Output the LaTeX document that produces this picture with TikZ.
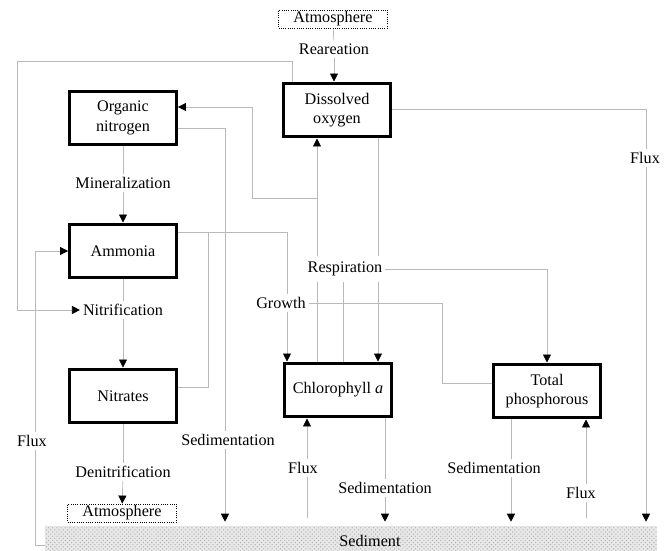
\documentclass[tikz,border=0pt]{standalone}
\usepackage{fontspec}
\setmainfont{Liberation Serif}
\usetikzlibrary{calc, positioning, arrows.meta, backgrounds, patterns}
\tikzset{
  wqfig/.style={font=\fontsize{11.5}{14}\selectfont},
  pool/.style={draw, line width=2.4pt, fill=white, align=center,
    minimum width=2.66cm, minimum height=1.34cm, inner sep=1pt},
  atm/.style={draw, densely dotted, line width=0.6pt,
    minimum width=2.72cm, minimum height=0.45cm, inner sep=0pt},
  sedbed/.style={minimum width=15.3cm, minimum height=0.625cm, inner sep=0pt,
    preaction={fill=gray!18}, pattern=crosshatch dots, pattern color=gray!60},
  proc/.style={fill=white, inner sep=2pt},
  flow/.style={draw=gray!55, line width=0.5pt},
  arr/.style={flow, -{Triangle[length=2mm, width=2mm, color=black, fill=black]}},
  tobed/.style={shorten >=1mm},
  frombed/.style={shorten <=2mm},
}

\begin{document}
\begin{tikzpicture}[wqfig, x=0.025cm, y=-0.025cm]
  \useasboundingbox (0,0) rectangle (671,551);

  % ----- state variables -----
  \node[pool] (on)  at (123,118) {Organic\\nitrogen};
  \node[pool] (amm) at (123,251) {Ammonia};
  \node[pool] (no3) at (123,396) {Nitrates};
  \node[pool] (do)  at (337,110) {Dissolved\\oxygen};
  \node[pool] (chl) at (338,390) {Chlorophyll \textit{a}};
  \node[pool] (tp)  at (547,391) {Total\\phosphorous};

  % ----- atmosphere and sediment -----
  \node[atm] (atmT) at (333,19) {Atmosphere};
  \node[atm] (atmB) at (122,513) {Atmosphere};
  \node[sedbed] (bed) at (351,538.5) {};
  \node (bedtxt) at (370,541) {Sediment};

  % ----- process labels -----
  \node[proc] (rea)   at (334,49)  {Reareation};
  \node[proc] (mine)  at (123,183) {Mineralization};
  \node[proc] (nitri) at (123,310) {Nitrification};
  \node[proc] (denit) at (123,472) {Denitrification};
  \node[proc] (grow)  at (281,303) {Growth};
  \node[proc, inner ysep=4pt] (resp) at (345,269) {Respiration};
  \node[proc] (fluxN) at (32,441)  {Flux};
  \node[proc] (fluxO) at (645,158) {Flux};
  \node[proc] (fluxC) at (303,468) {Flux};
  \node[proc] (fluxP) at (581,493) {Flux};
  \node[proc] (sedN)  at (228,440) {Sedimentation};
  \node[proc] (sedC)  at (385,488) {Sedimentation};
  \node[proc] (sedP)  at (494,468) {Sedimentation};

  % ----- bends of the connectors -----
  \coordinate (loopA) at (292,61);
  \coordinate (loopB) at (17,61);
  \coordinate (fN)    at (35,545);
  \coordinate (onS)   at (225,128);
  \coordinate (c1)    at (317,198);
  \coordinate (c2)    at (252,107);
  \coordinate (c3)    at (378,0);
  \coordinate (c4)    at (343,0);
  \coordinate (g1)    at (287,232);
  \coordinate (g2)    at (208,387);
  \coordinate (g3)    at (442,383);
  \coordinate (f1)    at (646,109);
  \coordinate (f3)    at (307,0);
  \coordinate (f4)    at (586,0);
  \coordinate (s3)    at (511,0);

  \begin{scope}[on background layer]
    % nitrogen chain
    \draw[flow] (on) -- (mine);
    \draw[arr] (mine) -- (amm);
    \draw[flow] (amm) -- (nitri);
    \draw[arr] (nitri) -- (no3);
    \draw[flow] (no3) -- (denit);
    \draw[arr] (denit) -- (atmB);

    % reaeration
    \draw[flow] (atmT) -- (rea);
    \draw[arr] (rea) -- (rea |- do.north);

    % oxygen to nitrification
    \draw[arr] (do.north -| loopA) -- (loopA) -- (loopB) |- (nitri);

    % ammonia flux from sediment
    \draw[flow] (bed.west |- fN) -- (fN) -- (fN |- fluxN.south);
    \draw[arr] (fN |- fluxN.north) |- (amm.west);

    % organic nitrogen settling
    \draw[flow] (on.east |- onS) -- (onS) -- (onS |- sedN.north);
    \draw[arr, tobed] (sedN.south -| onS) -- (onS |- bed.north);

    % algae and oxygen
    \draw[arr] (chl.north -| c1) -- (do.south -| c1);
    \draw[arr] (c1) -| (c2) -- (on.east |- c2);
    \draw[arr] (do.south -| c3) -- (chl.north -| c3);
    \draw[flow] (resp.south -| c4) -- (chl.north -| c4);
    \draw[arr] (resp) -| (tp);

    % growth
    \draw[flow] (amm.east |- g1) -- (g1) -- (g1 |- grow.north);
    \draw[arr] (grow.south -| g1) -- (chl.north -| g1);
    \draw[flow] (no3.east |- g2) -- (g2) -- (g2 |- g1);
    \draw[flow] (tp.west |- g3) -- (g3) |- (grow.east);

    % oxygen flux
    \draw[flow] (do.east |- f1) -- (f1) -- (f1 |- fluxO.north);
    \draw[arr, tobed] (fluxO.south -| f1) -- (f1 |- bed.north);

    % chlorophyll exchange with sediment
    \draw[flow, frombed] (f3 |- bed.north) -- (f3 |- fluxC.south);
    \draw[arr] (f3 |- fluxC.north) -- (chl.south -| f3);
    \draw[flow] (chl.south -| sedC) -- (sedC);
    \draw[arr, tobed] (sedC) -- (sedC |- bed.north);

    % phosphorus exchange with sediment
    \draw[flow] (tp.south -| s3) -- (s3 |- sedP.north);
    \draw[arr, tobed] (sedP.south -| s3) -- (s3 |- bed.north);
    \draw[flow, frombed] (f4 |- bed.north) -- (f4 |- fluxP.south);
    \draw[arr] (f4 |- fluxP.north) -- (tp.south -| f4);
  \end{scope}
\end{tikzpicture}
\end{document}
